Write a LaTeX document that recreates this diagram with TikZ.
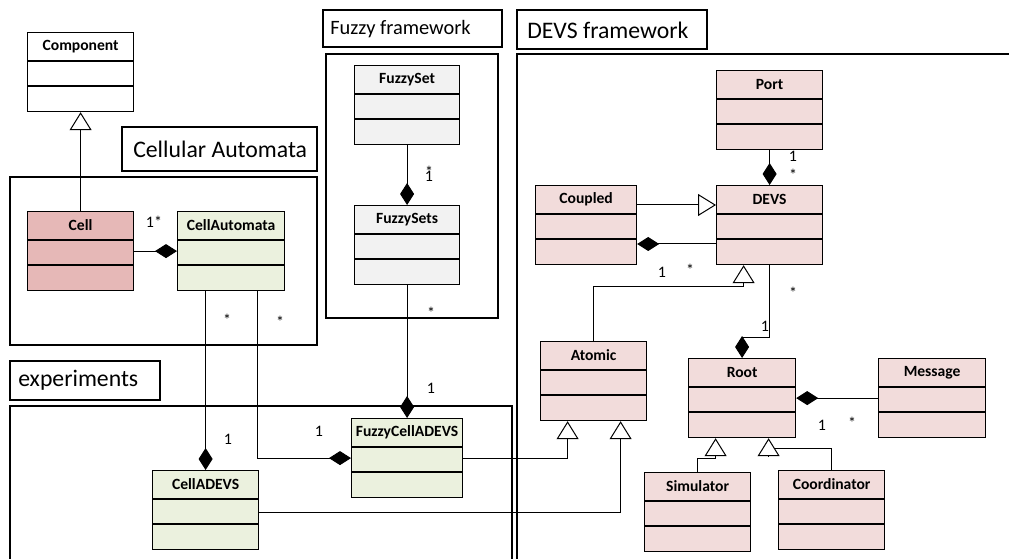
\documentclass[tikz,border=0pt]{standalone}
\usepackage{fontspec}
\setmainfont{Carlito}
\usetikzlibrary{arrows.meta,calc}

\definecolor{cellred}{HTML}{E6B8B7}
\definecolor{cagreen}{HTML}{EBF1DE}
\definecolor{fuzzygray}{HTML}{F2F2F2}
\definecolor{devspink}{HTML}{F2DCDB}

\tikzset{
  clsbox/.style={draw, line width=0.9pt, inner sep=0pt, minimum height=59.25pt},
  clstitle/.style={font=\fontsize{11.7}{13}\selectfont\bfseries, inner sep=0pt},
  clsline/.style={line width=0.9pt},
  pkgframe/.style={line width=1pt},
  pkgtitle/.style={font=\fontsize{17.8}{20}\selectfont, inner sep=0pt, anchor=west},
  mult/.style={font=\fontsize{12}{14}\selectfont, inner sep=0pt},
  comp/.style={-{Diamond[length=16.5pt,width=10.5pt]}, line width=0.75pt},
  gen/.style={-{Triangle[open,length=13.5pt,width=16.5pt]}, line width=0.75pt},
}

% class box: [width]{name}{top left}{title}{fill}
\newcommand{\umlclass}[5][106]{%
  \node[clsbox, fill=#5, minimum width=#1*0.75pt, anchor=north west] (#2) at (#3) {};
  \node[clstitle] (#2-title) at ($(#2.north)+(0,14.5)$) {#4};
  \draw[clsline] ($(#2.north west)+(0,29)$) -- ($(#2.north east)+(0,29)$);
  \draw[clsline] ($(#2.north west)+(0,54)$) -- ($(#2.north east)+(0,54)$);
}

\begin{document}
\begin{tikzpicture}[x=0.75pt,y=0.75pt,yscale=-1,xscale=1]
\useasboundingbox (0,0) rectangle (1009,559);

% packages
\draw[pkgframe] (122,127) rectangle (317,171);
\node[pkgtitle] (catitle) at (133,149) {Cellular Automata};
\draw[pkgframe] (10,177) rectangle (317,345);

\draw[pkgframe] (323,10) rectangle (502,47);
\node[pkgtitle, font=\fontsize{15.3}{18}\selectfont] (fztitle) at (330,29) {Fuzzy framework};
\draw[pkgframe] (326,54) rectangle (498,318);

\draw[pkgframe] (517,10) rectangle (707,49);
\node[pkgtitle] (devstitle) at (527,30) {DEVS framework};
\draw[pkgframe] (1012,54) -| (517,562);

\draw[pkgframe] (10,361) rectangle (160,400);
\node[pkgtitle] (exptitle) at (18,380) {experiments};
\draw[pkgframe] (10,562) |- (512,406) -- (512,562);

% classes
\umlclass{component}{27,32}{Component}{white}
\umlclass{cell}{27,211}{Cell}{cellred}
\umlclass[107]{cellaut}{177,211}{CellAutomata}{cagreen}
\umlclass[105]{fuzzyset}{354,65}{FuzzySet}{fuzzygray}
\umlclass[105]{fuzzysets}{354,205}{FuzzySets}{fuzzygray}
\umlclass{celladevs}{152,470}{CellADEVS}{cagreen}
\umlclass[111]{fuzzycell}{351,418}{FuzzyCellADEVS}{cagreen}
\umlclass{port}{716,70}{Port}{devspink}
\umlclass{devs}{716,185}{DEVS}{devspink}
\umlclass[101]{coupled}{535,185}{Coupled}{devspink}
\umlclass{atomic}{540,341}{Atomic}{devspink}
\umlclass[107]{root}{688,358}{Root}{devspink}
\umlclass[107]{message}{878,358}{Message}{devspink}
\umlclass{simulator}{644,472}{Simulator}{devspink}
\umlclass{coord}{778,470}{Coordinator}{devspink}

% cellular automata
\draw[gen] (cell.north) -- (component.south);
\draw[comp] (cell.east) -- (cellaut.west);
\draw[comp] (celladevs.north |- cellaut.south) -- (celladevs.north);
\draw[comp] ($(cellaut.south)+(26,0)$) |- (fuzzycell.west);

% fuzzy
\draw[comp] (fuzzyset.south) -- (fuzzysets.north);
\draw[comp] (fuzzysets.south) -- (fuzzycell.north);

% experiments to devs
\draw[gen] (fuzzycell.east) -| ($(atomic.south)+(-26,0)$);
\draw[gen] ($(celladevs.east)+(0,2)$) -| ($(atomic.south)+(27,0)$);

% devs
\draw[comp] (port.south) -- (devs.north);
\draw[gen] ($(coupled.north east)+(0,20)$) -- ($(devs.north west)+(0,20)$);
\draw[comp] ($(devs.north west)+(0,59)$) -- ($(coupled.north east)+(0,59)$);
\draw[gen] (atomic.north) |- ($(devs.south)+(-26,21)$) -- ($(devs.south)+(-26,0)$);
\draw[comp] (devs.south) |- ($(root.north)+(0,-21)$) -- (root.north);
\draw[comp] (message.west) -- (root.east);
\draw[gen] (simulator.north) |- ($(root.south)+(-26.5,20)$) -- ($(root.south)+(-26.5,0)$);
\coordinate (coordtip) at ($(root.south)+(26.5,0)$);
\draw[gen] ($(coordtip)+(0,18)$) -- (coordtip);
\draw[line width=0.75pt] (coord.north) |- ($(coordtip)+(6,10)$);

% multiplicities
\node[mult] (m1) at (154,222) {1*};
\node[mult] (m2) at (227,320) {*};
\node[mult] (m3) at (280,322) {*};
\node[mult] (m4) at (228,439) {1};
\node[mult] (m5) at (319,431) {1};
\node[mult] (m6) at (429,172) {*};
\node[mult] (m7) at (429,176) {1};
\node[mult] (m8) at (431,313) {*};
\node[mult] (m9) at (431,388) {1};
\node[mult] (m10) at (793,156) {1};
\node[mult] (m11) at (793,175) {*};
\node[mult] (m12) at (662,272) {1};
\node[mult] (m13) at (690,270) {*};
\node[mult] (m14) at (793,293) {*};
\node[mult] (m15) at (765,326) {1};
\node[mult] (m16) at (822,425) {1};
\node[mult] (m17) at (852,423) {*};
\end{tikzpicture}
\end{document}
